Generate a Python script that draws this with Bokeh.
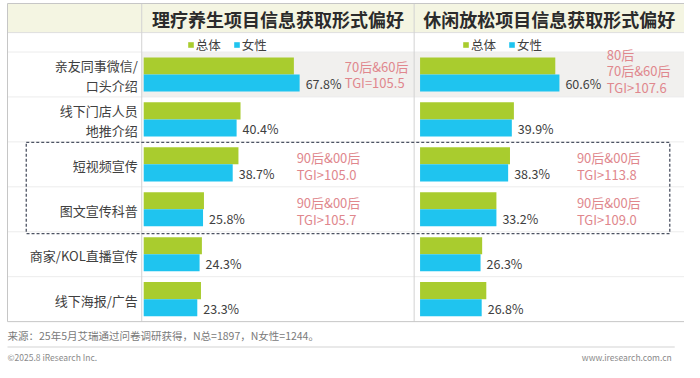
from bokeh.plotting import figure
from bokeh.models import Range1d, ColumnDataSource, Legend, LegendItem
from bokeh.transform import dodge
from bokeh.core.properties import value
from bokeh.embed import file_html
from bokeh.resources import INLINE

# ---------------- data ----------------
categories = ["亲友同事微信/\n口头介绍", "线下门店人员\n地推介绍", "短视频宣传",
              "图文宣传科普", "商家/KOL直播宣传", "线下海报/广告"]
titles = ["理疗养生项目信息获取形式偏好", "休闲放松项目信息获取形式偏好"]
series = ["总体", "女性"]
therapy_total = [65.3, 42.1, 41.2, 26.2, 25.3, 24.9]
therapy_female = [67.8, 40.4, 38.7, 25.8, 24.3, 23.3]
relax_total = [58.8, 40.8, 39.1, 33.2, 27.0, 28.8]
relax_female = [60.6, 39.9, 38.3, 33.2, 26.3, 26.8]
therapy_tgi = ["70后&60后\nTGI=105.5", "", "90后&00后\nTGI>105.0", "90后&00后\nTGI>105.7", "", ""]
relax_tgi = ["80后\n70后&60后\nTGI>107.6", "", "90后&00后\nTGI>113.8", "90后&00后\nTGI>109.0", "", ""]
source_note = "来源：25年5月艾瑞通过问卷调研获得，N总=1897，N女性=1244。"
copyright_note = "©2025.8 iResearch Inc."
site_note = "www.iresearch.com.cn"

# ---------------- layout constants ----------------
W, H = 684, 362
SX, SY = 0.987, 0.97


def X(v):
    return 7 + (v - 7) * SX


def Y(v):
    return 3 + (v - 3) * SY


FONT_NAME = "Noto Sans CJK SC"
FONT = value(FONT_NAME)
GREEN, BLUE = "#a9cc2e", "#1fc4ef"
PINK = "#e0878d"
DARK = "#404040"
K = 2.33 * SX            # px per percent
L0, R0 = X(145), X(425)  # pixel x of 0% for each panel
LEFT_B, RIGHT_B = X(7), X(693)
COL1, COL2 = X(143), X(419)
HEAD_T, HEAD_B = Y(3), Y(33)
ROW_TOP, ROW_H = Y(53), 46.33 * SY
TABLE_B = ROW_TOP + 6 * ROW_H

p = figure(width=W, height=H, x_range=Range1d(0, W), y_range=Range1d(H, 0),
           output_backend="svg", toolbar_location=None, min_border=0,
           x_axis_location=None, y_axis_location=None)
p.grid.visible = False
p.outline_line_color = None
p.background_fill_color = "white"
p.border_fill_color = "white"

p.extra_x_ranges = {"L": Range1d(-L0 / K, (W - L0) / K),
                    "R": Range1d(-R0 / K, (W - R0) / K)}
p.extra_y_ranges = {"rows": Range1d(-0.5 + (H - ROW_TOP) / ROW_H, -0.5 - ROW_TOP / ROW_H)}

rows = list(range(len(categories)))
src = ColumnDataSource(dict(
    row=rows, cat=categories,
    tt=therapy_total, tf=therapy_female, rt=relax_total, rf=relax_female,
    tf_lab=[f"{v:.1f}%" for v in therapy_female],
    rf_lab=[f"{v:.1f}%" for v in relax_female],
))

# header band
p.quad(left=LEFT_B, right=W, top=HEAD_T, bottom=HEAD_B, fill_color="#f4f5e2", line_color=None)
# highlighted first row
p.quad(left=COL1, right=RIGHT_B, top=-0.5, bottom=0.5, y_range_name="rows",
       fill_color="#f1f0ee", line_color=None)
# row separators
for b in [-0.5, 0.5, 1.5, 2.5, 3.5, 4.5]:
    p.segment(x0=LEFT_B, x1=RIGHT_B, y0=b, y1=b, y_range_name="rows", line_color="#ececec", line_width=1)
p.segment(x0=LEFT_B, x1=RIGHT_B, y0=HEAD_B, y1=HEAD_B, line_color="#dedede", line_width=1)
# column separators and outer border
for cx in [COL1, COL2]:
    p.segment(x0=cx, x1=cx, y0=HEAD_T, y1=TABLE_B, line_color="#d2d2d2", line_width=1)
p.quad(left=LEFT_B, right=RIGHT_B, top=HEAD_T, bottom=TABLE_B, fill_color=None,
       line_color="#c6c6c6", line_width=1)

# titles
ty = (HEAD_T + HEAD_B) / 2 + 0.5
p.text(x=[(COL1 + COL2) / 2, (COL2 + RIGHT_B) / 2], y=[ty, ty], text=titles,
       text_font=FONT, text_font_style="bold", text_font_size="18px", text_color="#2b2b2b",
       text_align="center", text_baseline="middle")

# category labels
p.text(x=X(139), y=dodge("row", 0.03), source=src, text="cat", y_range_name="rows",
       text_font=FONT, text_font_size="13px", text_color=DARK, text_align="right",
       text_baseline="middle", text_line_height=1.05)

legends = []
for rng, tot, fem, lab, tgi, tgi_x, tgi_dy in [
        ("L", "tt", "tf", "tf_lab", therapy_tgi, [87.4, 0, 66.5, 66.5, 0, 0], [0.0, 0, 0.04, 0.04, 0, 0]),
        ("R", "rt", "rf", "rf_lab", relax_tgi, [81.2, 0, 68.2, 68.2, 0, 0], [-0.08, 0, 0.04, 0.04, 0, 0])]:
    g = p.hbar(y=dodge("row", -0.19), left=0, right=tot, height=0.38, source=src,
               x_range_name=rng, y_range_name="rows", fill_color=GREEN, line_color=None)
    b = p.hbar(y=dodge("row", 0.19), left=0, right=fem, height=0.38, source=src,
               x_range_name=rng, y_range_name="rows", fill_color=BLUE, line_color=None)
    p.text(x=dodge(fem, 6 / K), y=dodge("row", 0.2), text=lab, source=src,
           x_range_name=rng, y_range_name="rows", text_font=FONT, text_font_size="12.5px",
           text_color=DARK, text_baseline="middle")
    tsrc = ColumnDataSource(dict(x=[x for x, t in zip(tgi_x, tgi) if t],
                                 y=[r + d for r, d, t in zip(rows, tgi_dy, tgi) if t],
                                 t=[t for t in tgi if t]))
    p.text(x="x", y="y", text="t", source=tsrc, x_range_name=rng, y_range_name="rows",
           text_font=FONT, text_font_size="13px", text_color=PINK, text_baseline="middle",
           text_line_height=0.86)
    legends.append((g, b))

for (g, b), lx in zip(legends, [X(189), X(468)]):
    leg = Legend(items=[LegendItem(label=series[0], renderers=[g]),
                        LegendItem(label=series[1], renderers=[b])],
                 orientation="horizontal", location=(lx, 308),
                 glyph_width=7, glyph_height=7, label_standoff=2, spacing=12,
                 padding=0, margin=0, border_line_color=None, background_fill_alpha=0,
                 label_text_font=FONT_NAME, label_text_font_size="12.5px", label_text_color=DARK,
                 label_height=18)
    p.add_layout(leg)

# dashed highlight box
p.quad(left=X(26), right=X(678), top=1.51, bottom=3.54, y_range_name="rows", fill_color=None,
       line_color="#4d5363", line_width=1.3, line_dash="3 2")

# footer
p.text(x=[X(7)], y=[Y(345)], text=[source_note], text_font=FONT, text_font_size="10.5px",
       text_color="#7a7a7a", text_baseline="middle")
p.segment(x0=X(7), x1=X(683), y0=Y(357), y1=Y(357), line_color="#e2e2e2", line_width=1.5)
p.text(x=[X(7)], y=[Y(367)], text=[copyright_note], text_font=FONT, text_font_size="8.5px",
       text_color="#8a8a8a", text_baseline="middle")
p.text(x=[X(680)], y=[Y(367)], text=[site_note], text_font=FONT, text_font_size="8.5px",
       text_color="#8a8a8a", text_baseline="middle", text_align="right")

open("out.html", "w").write(file_html(p, INLINE))
